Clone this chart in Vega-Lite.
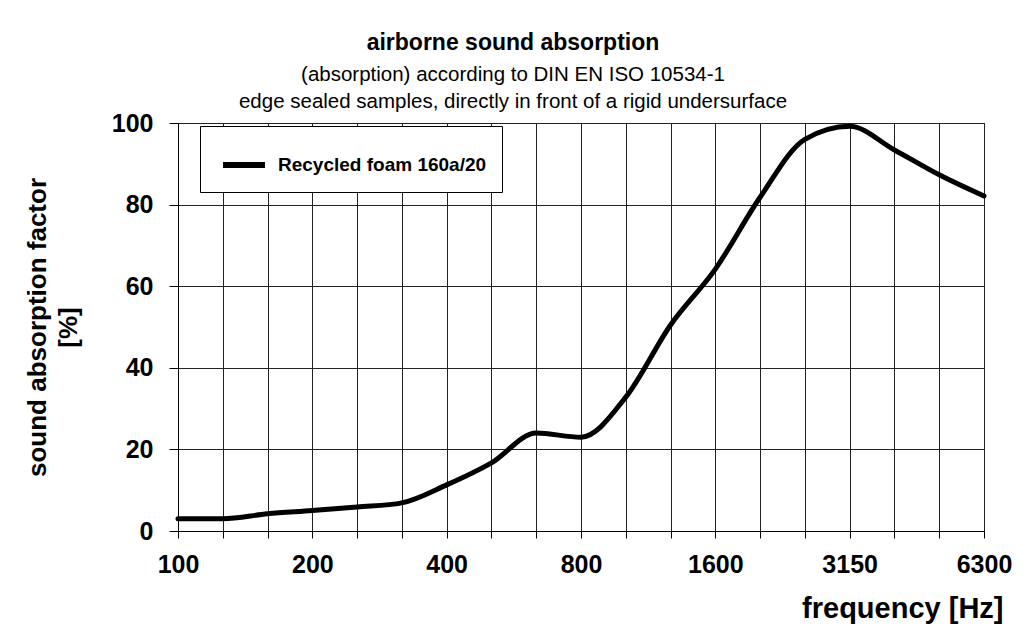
{
  "$schema": "https://vega.github.io/schema/vega-lite/v6.json",
  "autosize": "none",
  "width": 806,
  "height": 408,
  "padding": {"left": 178, "top": 123, "right": 42, "bottom": 98},
  "background": "white",
  "title": {
    "text": "airborne sound absorption",
    "subtitle": ["(absorption) according to DIN EN ISO 10534-1", "edge sealed samples, directly in front of a rigid undersurface"],
    "anchor": "middle",
    "dx": -68,
    "font": "Liberation Sans",
    "fontSize": 23,
    "fontWeight": "bold",
    "color": "black",
    "subtitleFont": "Liberation Sans",
    "subtitleFontSize": 20.5,
    "subtitleColor": "black",
    "subtitleLineHeight": 27,
    "subtitlePadding": 10,
    "offset": -1
  },
  "data": {
    "values": [
      {"freq": "100", "alpha": 3.0, "series": "Recycled foam 160a/20"},
      {"freq": "125", "alpha": 3.0, "series": "Recycled foam 160a/20"},
      {"freq": "160", "alpha": 4.2, "series": "Recycled foam 160a/20"},
      {"freq": "200", "alpha": 5.0, "series": "Recycled foam 160a/20"},
      {"freq": "250", "alpha": 5.9, "series": "Recycled foam 160a/20"},
      {"freq": "315", "alpha": 6.9, "series": "Recycled foam 160a/20"},
      {"freq": "400", "alpha": 11.3, "series": "Recycled foam 160a/20"},
      {"freq": "500", "alpha": 16.7, "series": "Recycled foam 160a/20"},
      {"freq": "630", "alpha": 24.0, "series": "Recycled foam 160a/20"},
      {"freq": "800", "alpha": 23.0, "series": "Recycled foam 160a/20"},
      {"freq": "1000", "alpha": 32.8, "series": "Recycled foam 160a/20"},
      {"freq": "1250", "alpha": 50.5, "series": "Recycled foam 160a/20"},
      {"freq": "1600", "alpha": 64.2, "series": "Recycled foam 160a/20"},
      {"freq": "2000", "alpha": 81.8, "series": "Recycled foam 160a/20"},
      {"freq": "2500", "alpha": 96.0, "series": "Recycled foam 160a/20"},
      {"freq": "3150", "alpha": 99.2, "series": "Recycled foam 160a/20"},
      {"freq": "4000", "alpha": 93.4, "series": "Recycled foam 160a/20"},
      {"freq": "5000", "alpha": 87.3, "series": "Recycled foam 160a/20"},
      {"freq": "6300", "alpha": 82.1, "series": "Recycled foam 160a/20"}
    ]
  },
  "mark": {"type": "line", "interpolate": "monotone", "strokeWidth": 5, "strokeCap": "round"},
  "encoding": {
    "x": {
      "field": "freq",
      "type": "ordinal",
      "sort": null,
      "scale": {"type": "point", "padding": 0},
      "axis": {
        "title": "frequency [Hz]",
        "labelAngle": 0,
        "labelExpr": "indexof(['100','200','400','800','1600','3150','6300'], datum.value) >= 0 ? datum.value : ''",
        "labelFont": "Liberation Sans",
        "labelFontSize": 25,
        "labelFontWeight": "bold",
        "labelColor": "black",
        "labelPadding": 14,
        "labelOverlap": false,
        "tickSize": 7,
        "tickColor": "black",
        "domainColor": "black",
        "grid": true,
        "gridColor": "#222",
        "gridWidth": 1,
        "titleFont": "Liberation Sans",
        "titleFontSize": 29,
        "titleFontWeight": "bold",
        "titleColor": "black",
        "titleAnchor": "end",
        "titleAlign": "right",
        "titleBaseline": "alphabetic",
        "titleX": 825,
        "titleY": 86
      }
    },
    "y": {
      "field": "alpha",
      "type": "quantitative",
      "scale": {"domain": [0, 100], "nice": false},
      "axis": {
        "title": ["sound absorption factor", "[%]"],
        "values": [0, 20, 40, 60, 80, 100],
        "labelFont": "Liberation Sans",
        "labelFontSize": 25,
        "labelFontWeight": "bold",
        "labelColor": "black",
        "labelPadding": 16,
        "tickSize": 9,
        "tickColor": "black",
        "domainColor": "black",
        "grid": true,
        "gridColor": "#222",
        "gridWidth": 1,
        "titleFont": "Liberation Sans",
        "titleFontSize": 26,
        "titleFontWeight": "bold",
        "titleColor": "black",
        "titleLineHeight": 31,
        "titlePadding": 30
      }
    },
    "color": {
      "field": "series",
      "type": "nominal",
      "scale": {"range": ["black"]},
      "legend": {
        "title": null,
        "orient": "none",
        "legendX": 22,
        "legendY": 3,
        "padding": 15,
        "symbolOffset": 5,
        "strokeColor": "black",
        "fillColor": "white",
        "symbolType": "stroke",
        "symbolSize": 1764,
        "symbolStrokeWidth": 6,
        "symbolStrokeColor": "black",
        "labelFont": "Liberation Sans",
        "labelFontSize": 19,
        "labelFontWeight": "bold",
        "labelColor": "black",
        "labelOffset": 10,
        "labelLimit": 400
      }
    }
  },
  "config": {
    "view": {"stroke": "black", "strokeWidth": 1}
  }
}
